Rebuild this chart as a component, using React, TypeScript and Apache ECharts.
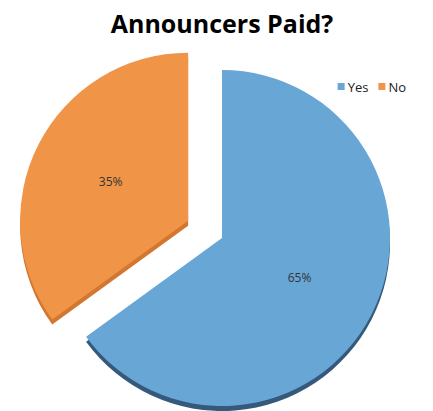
import React, { useEffect, useRef } from "react";
import * as echarts from "echarts";

const categories = ["Yes", "No"];
const values = [65, 35];
const labels = ["65%", "35%"];
const topColors = ["#68a6d6", "#f09448"];
const sideColors = ["#35597b", "#d27630"];

export default function App() {
  const ref = useRef<HTMLDivElement>(null);
  useEffect(() => {
    document.body.style.margin = "0";
    const chart = echarts.init(ref.current!, undefined, { renderer: "svg" });
    const mk = (colors: string[], showLabel: boolean) =>
      categories.map((c, i) => ({
        name: c,
        value: values[i],
        selected: c === "No",
        itemStyle: { color: colors[i] },
        label: { show: showLabel, formatter: labels[i] },
      }));
    chart.setOption({
      animation: false,
      title: {
        text: "Announcers Paid?",
        left: 217,
        textAlign: "center",
        top: 5,
        textStyle: { fontFamily: "Open Sans", fontWeight: "bold", fontSize: 25, color: "#000" },
      },
      legend: {
        top: 75,
        right: 22,
        itemWidth: 7,
        itemHeight: 7,
        itemGap: 10,
        icon: "rect",
        textStyle: { fontFamily: "Open Sans", fontSize: 13, color: "#222", padding: [0, 0, 0, -2] },
        data: categories.map((c, i) => ({ name: c, itemStyle: { color: topColors[i] } })),
      },
      series: [
        {
          type: "pie",
          z: 1,
          center: [222, 243],
          radius: 168,
          startAngle: 90,
          clockwise: true,
          selectedMode: "single",
          selectedOffset: 38,
          silent: true,
          label: { show: false },
          labelLine: { show: false },
          emphasis: { disabled: true },
          data: mk(sideColors, false),
        },
        {
          type: "pie",
          z: 2,
          center: [222, 238],
          radius: 168,
          startAngle: 90,
          clockwise: true,
          selectedMode: "single",
          selectedOffset: 38,
          silent: true,
          label: {
            position: "inside",
            fontFamily: "Open Sans",
            fontSize: 12,
            color: "#333",
          },
          labelLine: { show: false },
          emphasis: { disabled: true },
          data: mk(topColors, true),
        },
      ],
    });
    return () => chart.dispose();
  }, []);
  return <div ref={ref} style={{ position: "absolute", left: 0, top: 0, width: 433, height: 411 }} />;
}
